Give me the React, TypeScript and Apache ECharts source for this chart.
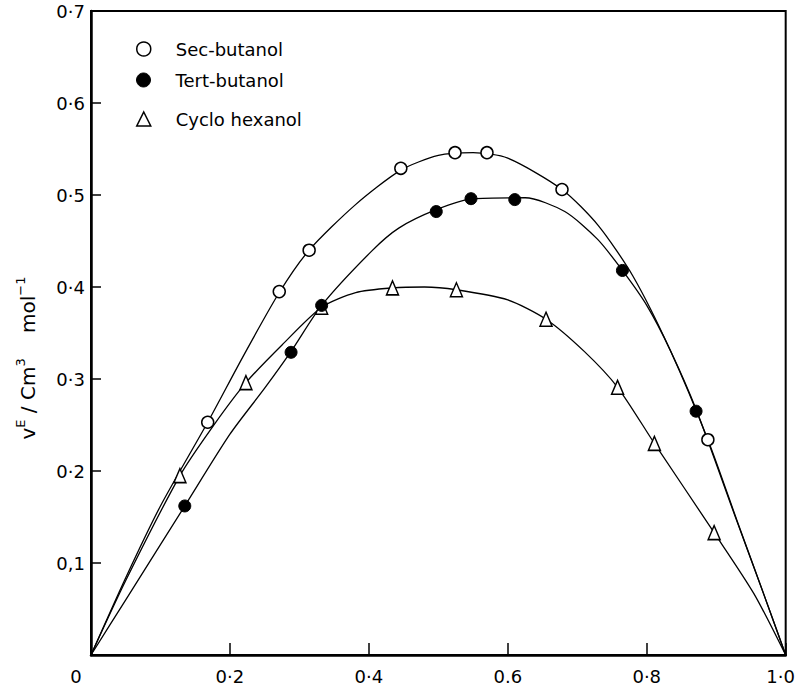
import React, { useEffect, useRef } from "react";
import * as echarts from "echarts";

const FONT = "DejaVu Sans";

// Axis ticks and labels
const xTickLabels = ["0", "0·2", "0·4", "0.6", "0·8", "1·0"];
const yTickLabels = ["", "0,1", "0·2", "0·3", "0·4", "0·5", "0·6", "0·7"];

// Measured points (x, V^E)
const secButanolPts: [number, number][] = [
  [0.168, 0.253], [0.271, 0.395], [0.314, 0.44], [0.446, 0.529],
  [0.524, 0.546], [0.57, 0.546], [0.678, 0.506], [0.888, 0.234],
];
const tertButanolPts: [number, number][] = [
  [0.135, 0.162], [0.288, 0.329], [0.332, 0.38], [0.497, 0.482],
  [0.547, 0.496], [0.61, 0.495], [0.765, 0.418], [0.871, 0.265],
];
const cycloHexanolPts: [number, number][] = [
  [0.128, 0.195], [0.223, 0.296], [0.332, 0.378], [0.434, 0.399],
  [0.526, 0.397], [0.655, 0.365], [0.758, 0.291], [0.811, 0.23], [0.897, 0.133],
];

// Fitted curves
const secButanolCurve: [number, number][] = [
  [0, 0], [0.05, 0.084], [0.1, 0.162], [0.168, 0.253], [0.22, 0.326], [0.271, 0.394],
  [0.314, 0.44], [0.38, 0.489], [0.446, 0.527], [0.5, 0.543], [0.55, 0.546], [0.6, 0.54],
  [0.678, 0.506], [0.73, 0.467], [0.78, 0.412], [0.834, 0.331], [0.888, 0.234], [0.93, 0.146],
  [0.968, 0.067], [1, 0],
];
const tertButanolCurve: [number, number][] = [
  [0, 0], [0.05, 0.06], [0.135, 0.162], [0.2, 0.24], [0.25, 0.29], [0.288, 0.33],
  [0.332, 0.38], [0.404, 0.439], [0.443, 0.464], [0.497, 0.484], [0.55, 0.496],
  [0.625, 0.497], [0.682, 0.482], [0.729, 0.452], [0.765, 0.418], [0.8, 0.38],
  [0.834, 0.331], [0.871, 0.267], [0.93, 0.145], [0.968, 0.067], [1, 0],
];
const cycloHexanolCurve: [number, number][] = [
  [0, 0], [0.05, 0.081], [0.128, 0.195], [0.175, 0.248], [0.223, 0.296], [0.275, 0.337],
  [0.332, 0.378], [0.381, 0.394], [0.434, 0.399], [0.48, 0.4], [0.526, 0.397],
  [0.6, 0.386], [0.655, 0.365], [0.71, 0.33], [0.758, 0.291], [0.811, 0.23],
  [0.897, 0.133], [0.954, 0.067], [1, 0],
];

const seriesNames = ["Sec-butanol", "Tert-butanol", "Cyclo hexanol"];

export default function App() {
  const ref = useRef<HTMLDivElement>(null);
  useEffect(() => {
    if (!ref.current) return;
    const chart = echarts.init(ref.current, undefined, { renderer: "svg" });
    const lineStyle = { color: "#000", width: 1.3 };
    const legendBase = {
      orient: "vertical",
      itemWidth: 14,
      itemHeight: 14,
      selectedMode: false,
      textStyle: { fontSize: 18, color: "#000", fontFamily: FONT, padding: [0, 0, 0, 20] },
    };
    const openStyle = { color: "#fff", borderColor: "#000", borderWidth: 1.5, opacity: 1 };
    const fillStyle = { color: "#000", borderColor: "#000", borderWidth: 1, opacity: 1 };
    const curve = (data: [number, number][], name: string) => ({
      name, type: "line", data, smooth: 0.25, showSymbol: false,
      lineStyle, z: 2, silent: true,
    });
    chart.setOption({
      animation: false,
      backgroundColor: "#fff",
      grid: { left: 91, right: 8, top: 11, bottom: 37, show: true, borderColor: "#000", borderWidth: 2, backgroundColor: "transparent" },
      legend: [
        { ...legendBase, left: 131, top: 35, data: [{ name: seriesNames[0], icon: "circle", itemStyle: openStyle }] },
        { ...legendBase, left: 131, top: 66, data: [{ name: seriesNames[1], icon: "circle", itemStyle: fillStyle }] },
        { ...legendBase, left: 131, top: 105, data: [{ name: seriesNames[2], icon: "triangle", itemStyle: openStyle }] },
      ],
      xAxis: {
        type: "value",
        min: 0,
        max: 1,
        interval: 0.2,
        splitLine: { show: false },
        axisLine: { show: true, onZero: false, lineStyle: { color: "#000", width: 2.5 } },
        axisTick: { show: true, inside: true, length: 12, lineStyle: { color: "#000", width: 1.5 } },
        axisLabel: {
          margin: 12,
          fontSize: 18,
          color: "#000",
          fontFamily: FONT,
          formatter: (v: number) => {
            const i = Math.round(v / 0.2);
            if (i === 0) return "{o|" + xTickLabels[0] + "}";
            if (i === xTickLabels.length - 1) return "{e|" + xTickLabels[i] + "}";
            return xTickLabels[i];
          },
          rich: {
            o: { fontSize: 18, fontFamily: FONT, color: "#000", padding: [0, 30, 0, 0] },
            e: { fontSize: 18, fontFamily: FONT, color: "#000", padding: [0, 10, 0, 0] },
          },
        },
      },
      yAxis: {
        type: "value",
        min: 0,
        max: 0.7,
        interval: 0.1,
        splitLine: { show: false },
        axisLine: { show: true, onZero: false, lineStyle: { color: "#000", width: 2.5 } },
        axisTick: { show: true, inside: true, length: 10, lineStyle: { color: "#000", width: 1.5 } },
        axisLabel: {
          margin: 6,
          fontSize: 18,
          color: "#000",
          fontFamily: FONT,
          formatter: (v: number) => yTickLabels[Math.round(v / 0.1)] ?? "",
        },
        name: "{b|v}{s|E}{b| / Cm}{s|3}{b|    mol}{s|−1}",
        nameLocation: "middle",
        nameRotate: 90,
        nameGap: 50,
        nameTextStyle: {
          padding: [0, 50, 0, 0],
          rich: {
            b: { fontSize: 20, fontFamily: FONT, color: "#000", lineHeight: 27 },
            s: { fontSize: 13, fontFamily: FONT, color: "#000", verticalAlign: "top" },
          },
        },
      },
      series: [
        curve(secButanolCurve, "sec-curve"),
        curve(tertButanolCurve, "tert-curve"),
        curve(cycloHexanolCurve, "cyclo-curve"),
        { name: seriesNames[0], type: "scatter", data: secButanolPts, symbol: "circle", symbolSize: 12, itemStyle: openStyle, z: 5 },
        { name: seriesNames[1], type: "scatter", data: tertButanolPts, symbol: "circle", symbolSize: 12, itemStyle: fillStyle, z: 5 },
        { name: seriesNames[2], type: "scatter", data: cycloHexanolPts, symbol: "triangle", symbolSize: [12, 14], itemStyle: openStyle, z: 4 },
      ],
    });
    return () => chart.dispose();
  }, []);
  return (
    <div
      ref={ref}
      style={{ position: "fixed", left: 0, top: 0, width: 798, height: 692, background: "#fff" }}
    />
  );
}
